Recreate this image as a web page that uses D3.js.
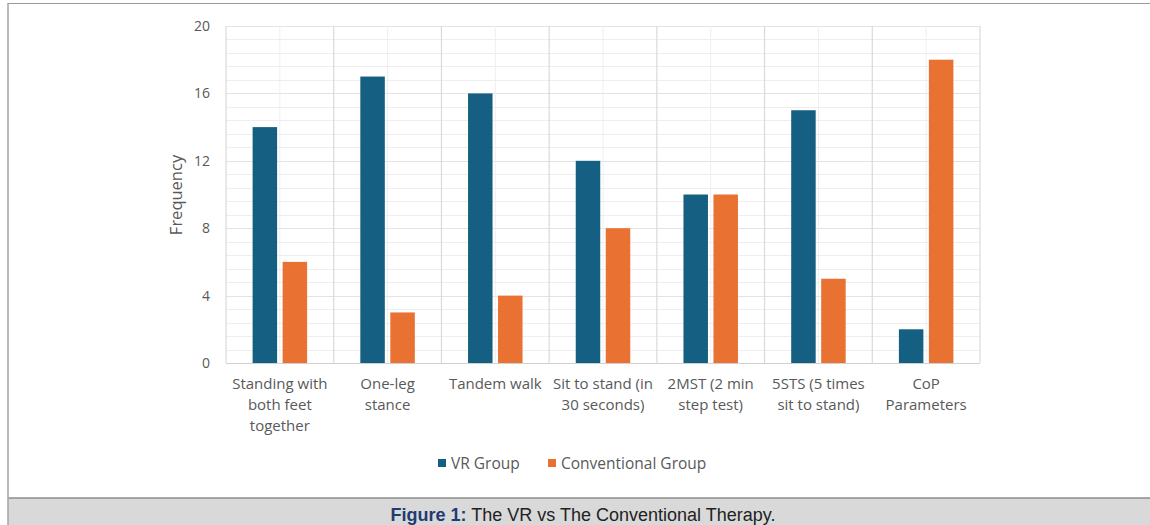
<!DOCTYPE html>
<html>
<head>
<meta charset="utf-8">
<script src="https://cdn.jsdelivr.net/npm/d3@7"></script>
<style>
  html, body { margin: 0; padding: 0; background: #fff; }
  svg { display: block; }
</style>
</head>
<body>
<svg id="chart" width="1150" height="525"></svg>
<script>
// Outcome measures and the number of patients per group
const categories = [
  ["Standing with", "both feet", "together"],
  ["One-leg", "stance"],
  ["Tandem walk"],
  ["Sit to stand (in", "30 seconds)"],
  ["2MST (2 min", "step test)"],
  ["5STS (5 times", "sit to stand)"],
  ["CoP", "Parameters"]
];
const vrValues = [14, 17, 16, 12, 10, 15, 2];
const conventionalValues = [6, 3, 4, 8, 10, 5, 18];
const seriesNames = ["VR Group", "Conventional Group"];
const yTicks = [0, 4, 8, 12, 16, 20];
const caption = { label: "Figure 1:", text: " The VR vs The Conventional Therapy." };

const colors = ["#156082", "#E97132"];
const W = 1150, H = 525;
const plot = { left: 226, right: 980, top: 26, bottom: 363 };
const font = "'Open Sans', 'Liberation Sans', sans-serif";

const svg = d3.select("#chart");

// Frame lines and caption band
svg.append("rect").attr("x", 0).attr("y", 0).attr("width", W).attr("height", H).attr("fill", "#fff");
svg.append("rect").attr("x", 8).attr("y", 498).attr("width", W - 8).attr("height", H - 498).attr("fill", "#d9d9d9");
svg.append("line").attr("x1", 8).attr("x2", W).attr("y1", 3.5).attr("y2", 3.5).attr("stroke", "#9a9a9a").attr("stroke-width", 1.2);
svg.append("line").attr("x1", 8).attr("x2", W).attr("y1", 498).attr("y2", 498).attr("stroke", "#8c8c8c").attr("stroke-width", 1.5);
svg.append("line").attr("x1", 8).attr("x2", 8).attr("y1", 3).attr("y2", H).attr("stroke", "#a6a6a6").attr("stroke-width", 1.5);

const idx = d3.range(categories.length);
const x0 = d3.scaleBand().domain(idx).range([plot.left, plot.right]).paddingInner(0).paddingOuter(0);
const y = d3.scaleLinear().domain([0, 20]).range([plot.bottom, plot.top]);

const g = svg.append("g");

// Minor horizontal gridlines every 0.8
const minorY = d3.range(0, 20.01, 0.8);
g.selectAll("line.hminor").data(minorY).join("line")
  .attr("x1", plot.left).attr("x2", plot.right)
  .attr("y1", d => Math.round(y(d)) + 0.5).attr("y2", d => Math.round(y(d)) + 0.5)
  .attr("stroke", "#eeeeee").attr("stroke-width", 1);
// Major horizontal gridlines
g.selectAll("line.hmajor").data(yTicks).join("line")
  .attr("x1", plot.left).attr("x2", plot.right)
  .attr("y1", d => Math.round(y(d)) + 0.5).attr("y2", d => Math.round(y(d)) + 0.5)
  .attr("stroke", "#e3e3e3").attr("stroke-width", 1);
// Vertical minor gridlines at category centres
g.selectAll("line.vminor").data(idx).join("line")
  .attr("x1", d => x0(d) + x0.bandwidth() / 2).attr("x2", d => x0(d) + x0.bandwidth() / 2)
  .attr("y1", plot.top).attr("y2", plot.bottom)
  .attr("stroke", "#efefef").attr("stroke-width", 1);
// Vertical major gridlines at category boundaries
g.selectAll("line.vmajor").data(d3.range(categories.length + 1)).join("line")
  .attr("x1", d => plot.left + d * x0.bandwidth()).attr("x2", d => plot.left + d * x0.bandwidth())
  .attr("y1", plot.top).attr("y2", plot.bottom)
  .attr("stroke", "#dadada").attr("stroke-width", 1.2);

// Bars
const barW = 24.5, gap = 5.5;
const series = [vrValues, conventionalValues];
series.forEach((vals, s) => {
  g.selectAll("rect.s" + s).data(vals).join("rect")
    .attr("x", (d, i) => x0(i) + x0.bandwidth() / 2 + (s === 0 ? -(barW + gap / 2) : gap / 2))
    .attr("y", d => y(d))
    .attr("width", barW)
    .attr("height", d => y(0) - y(d))
    .attr("fill", colors[s]);
});

// Baseline
g.append("line").attr("x1", plot.left).attr("x2", plot.right)
  .attr("y1", plot.bottom + 0.5).attr("y2", plot.bottom + 0.5)
  .attr("stroke", "#d0d0d0").attr("stroke-width", 1.2);

// Y axis tick labels
const yAxis = d3.axisLeft(y).tickValues(yTicks).tickSize(0).tickPadding(0);
const ya = svg.append("g").attr("transform", `translate(210,0)`).call(yAxis);
ya.select(".domain").remove();
ya.selectAll("text").attr("font-family", font).attr("font-size", 14).attr("fill", "#595959");

// Y axis title
svg.append("text")
  .attr("transform", "translate(182,195) rotate(-90)")
  .attr("text-anchor", "middle")
  .attr("font-family", font).attr("font-size", 16.5).attr("fill", "#595959")
  .text("Frequency");

// Category labels (wrapped lines)
const cat = svg.append("g").selectAll("text").data(categories).join("text")
  .attr("text-anchor", "middle")
  .attr("font-family", font).attr("font-size", 15).attr("fill", "#595959")
  .attr("x", (d, i) => x0(i) + x0.bandwidth() / 2)
  .attr("y", 389);
cat.selectAll("tspan").data(d => d).join("tspan")
  .attr("x", function () { return d3.select(this.parentNode).attr("x"); })
  .attr("dy", (d, i) => i === 0 ? 0 : 21)
  .text(d => d);

// Legend
const legend = svg.append("g").attr("font-family", font).attr("font-size", 15.5).attr("fill", "#595959");
const legendItems = [{ x: 438, name: seriesNames[0], c: colors[0] }, { x: 548, name: seriesNames[1], c: colors[1] }];
legendItems.forEach(it => {
  legend.append("rect").attr("x", it.x).attr("y", 459).attr("width", 8).attr("height", 8).attr("fill", it.c);
  legend.append("text").attr("x", it.x + 13).attr("y", 469).text(it.name);
});

// Caption
const cap = svg.append("text")
  .attr("x", 583).attr("y", 521)
  .attr("text-anchor", "middle")
  .attr("font-family", "'Liberation Sans', Arial, sans-serif").attr("font-size", 18).attr("fill", "#222");
cap.append("tspan").attr("font-weight", "bold").attr("fill", "#1f3b73").text(caption.label);
cap.append("tspan").text(caption.text);
</script>
</body>
</html>
